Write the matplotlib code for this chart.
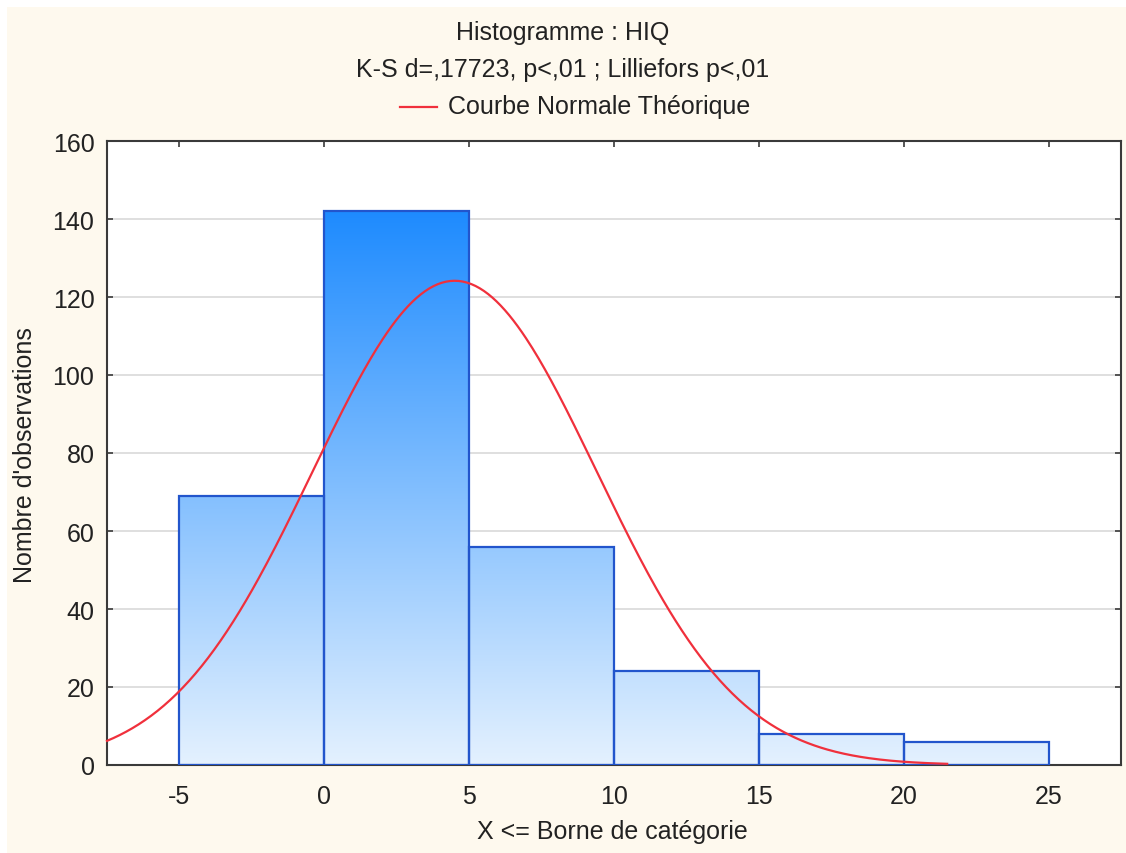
import numpy as np
import matplotlib.pyplot as plt
from matplotlib.colors import LinearSegmentedColormap

# histogram data
bin_edges = [-5, 0, 5, 10, 15, 20, 25]
counts = [69, 142, 56, 24, 8, 6]
x_ticks = [-5, 0, 5, 10, 15, 20, 25]
y_ticks = [0, 20, 40, 60, 80, 100, 120, 140, 160]

# fitted normal curve parameters (estimated)
curve_mean = 4.5
curve_sd = 4.9
curve_end = 21.5

plt.rcParams['font.family'] = ['Liberation Sans', 'DejaVu Sans']
plt.rcParams['axes.unicode_minus'] = False

W, H = 1126, 854
BG = "#fef9ee"
FS = 18
TXT = "#222222"

fig = plt.figure(figsize=(W / 100, H / 100), dpi=100, facecolor=BG)
# thin white margin at top and left
fig.patches.append(plt.Rectangle((0, 1 - 8 / H), 1, 8 / H, facecolor="white",
                                 edgecolor="none", transform=fig.transFigure, zorder=-1))
fig.patches.append(plt.Rectangle((0, 0), 7 / W, 1, facecolor="white",
                                 edgecolor="none", transform=fig.transFigure, zorder=-1))

ax = fig.add_axes([107 / W, 1 - 766 / H, (1121 - 107) / W, (766 - 142) / H])
ax.set_facecolor("white")

xmin, xmax = -7.5, 27.5
ymin, ymax = 0, 160
ax.set_xlim(xmin, xmax)
ax.set_ylim(ymin, ymax)

ax.set_yticks(y_ticks)
ax.set_xticks(x_ticks)
ax.grid(axis="y", color="#d9d9d9", linewidth=1.2, zorder=0)
ax.set_axisbelow(True)

# vertical gradient shared by all bars
cmap = LinearSegmentedColormap.from_list("hist", ["#e4f1fe", "#1e8bff"])
top = max(counts)
grad = np.linspace(0, 1, 256).reshape(-1, 1)

for left, right, c in zip(bin_edges[:-1], bin_edges[1:], counts):
    rect = plt.Rectangle((left, 0), right - left, c, facecolor="none",
                         edgecolor="#2255cc", linewidth=1.6, zorder=3)
    ax.add_patch(rect)
    im = ax.imshow(grad, cmap=cmap, aspect="auto", origin="lower",
                   extent=(left, right, 0, top), zorder=2, vmin=0, vmax=1)
    im.set_clip_path(rect)

# theoretical normal curve scaled to counts
n_total = sum(counts)
width = bin_edges[1] - bin_edges[0]
xs = np.linspace(xmin, curve_end, 400)
ys = n_total * width / (curve_sd * np.sqrt(2 * np.pi)) * np.exp(-0.5 * ((xs - curve_mean) / curve_sd) ** 2)
ax.plot(xs, ys, color="#f0303c", linewidth=1.6, zorder=4, clip_on=False)

ax.set_xlim(xmin, xmax)
ax.set_ylim(ymin, ymax)

for s in ax.spines.values():
    s.set_color("#3a3a3a")
    s.set_linewidth(1.5)
ax.tick_params(direction="in", length=4, width=1.2, colors="#3a3a3a",
               top=True, right=True, labelsize=FS)
ax.tick_params(axis="x", pad=14)
ax.tick_params(axis="y", pad=9)
for lbl in ax.get_xticklabels() + ax.get_yticklabels():
    lbl.set_color(TXT)

# axis labels placed in figure coordinates
fig.text(612 / W, 1 - 832 / H, "X <= Borne de catégorie", ha="center", va="center",
         fontsize=FS, color=TXT)
fig.text(25 / W, 1 - 455 / H, "Nombre d'observations", ha="center", va="center",
         rotation=90, fontsize=FS, color=TXT)

# titles and legend
fig.text(0.5, 1 - 33 / H, "Histogramme : HIQ", ha="center", va="center",
         fontsize=FS, color=TXT)
fig.text(0.5, 1 - 70 / H, "K-S d=,17723, p<,01 ; Lilliefors p<,01", ha="center",
         va="center", fontsize=FS, color=TXT)
fig.lines.append(plt.Line2D([400 / W, 437 / W], [1 - 108 / H] * 2,
                            color="#f0303c", linewidth=1.6, transform=fig.transFigure))
fig.text(448 / W, 1 - 107 / H, "Courbe Normale Théorique", ha="left",
         va="center", fontsize=FS, color=TXT)

fig.savefig("out.png", dpi=100, facecolor=BG)
